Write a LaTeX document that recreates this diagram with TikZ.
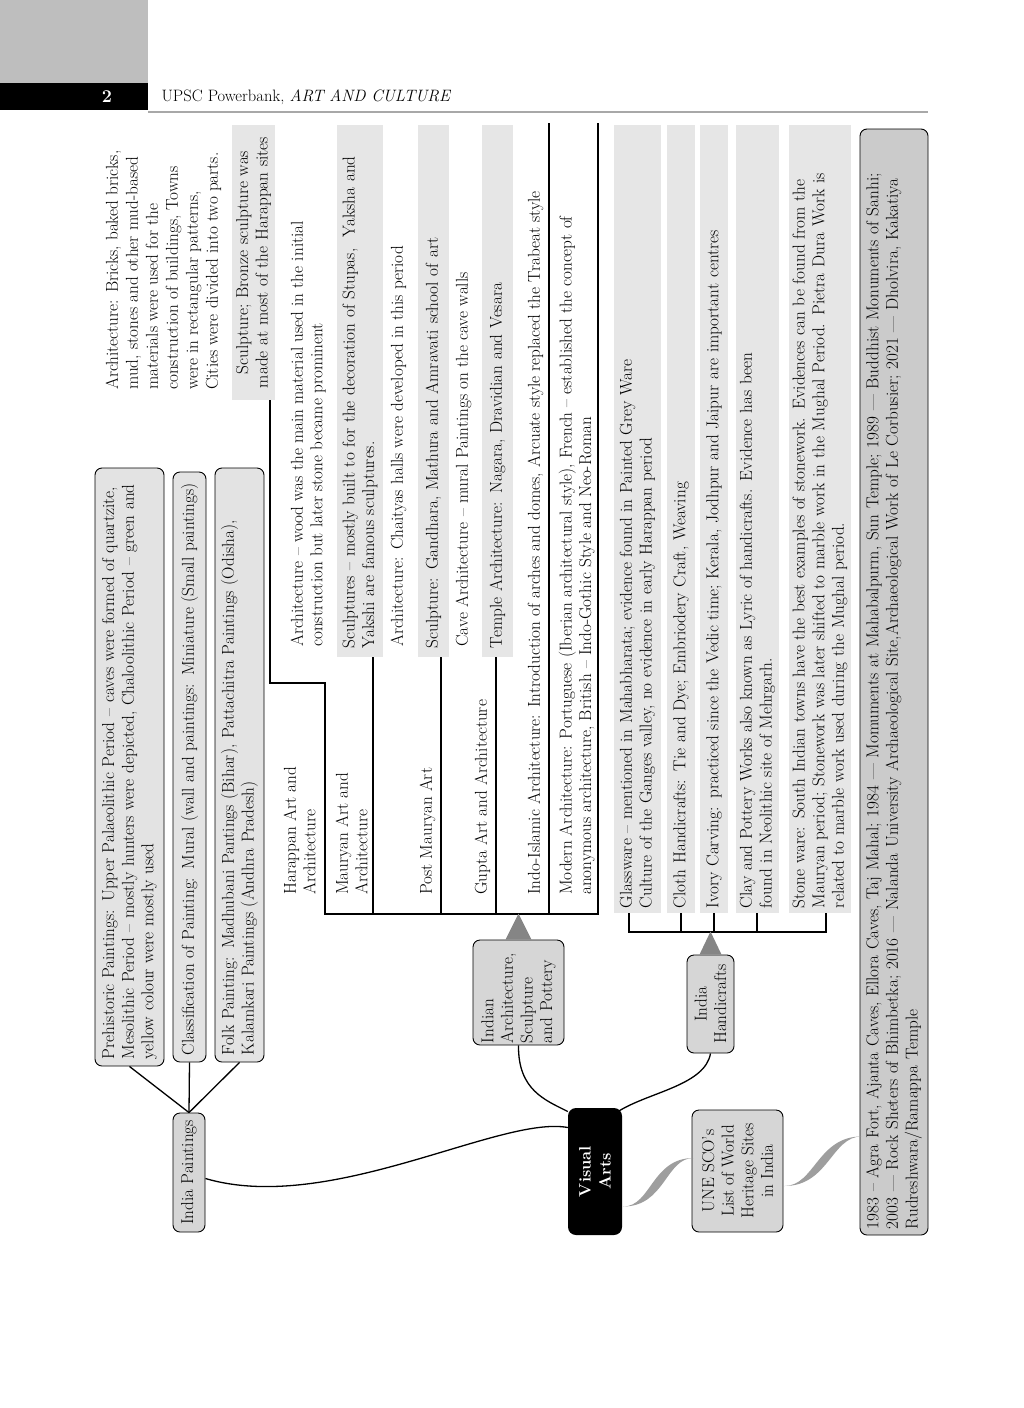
\documentclass[tikz,border=0pt]{standalone}
\usepackage{fontspec}
\usetikzlibrary{calc}
\definecolor{boxgray}{HTML}{D6D6D6}
\definecolor{lightbox}{HTML}{E3E3E3}
\definecolor{bargray}{HTML}{E6E6E6}
\definecolor{headgray}{HTML}{BEBEBE}
\definecolor{trigray}{HTML}{858585}
\definecolor{ribgray}{HTML}{9E9E9E}
\definecolor{rulegray}{HTML}{A8A8A8}
\begin{document}
\begin{tikzpicture}[x=1pt,y=-1pt,
 rot/.style={rotate=90,inner sep=0pt,font=\fontsize{17.2}{19.6}\selectfont},
 rbox/.style={rot,draw=black,line width=0.9pt,rounded corners=7pt,fill=boxgray},
 gbar/.style={rot,fill=bargray},
 txt/.style={rot,align=left,anchor=north west},
 conn/.style={line width=1.3pt},
 brk/.style={line width=1.7pt},
 tri/.style={fill=trigray},
 rib/.style={fill=ribgray}]
\useasboundingbox (0,0) rectangle (1024,1408);

% header
\fill[headgray] (0,0) rectangle (148,83);
\fill[black] (0,83) rectangle (148,110);
\node[text=white,font=\fontsize{18}{20}\selectfont\bfseries] (pgno) at (107,97) {2};
\node[anchor=west,font=\fontsize{16.5}{20}\selectfont] (htitle) at (158,97.5) {UPSC Powerbank, \textit{ART AND CULTURE}};
\draw[rulegray,line width=2pt] (148,111.5) -- (928,111.5);

% India paintings branch
\node[rbox,fill=lightbox,minimum width=598pt,minimum height=69pt,text width=584pt,align=left] (pre) at (129.5,767)
 {Prehistoric Paintings: Upper Palaeolithic Period – caves were formed of quartzite,\\
  Mesolithic Period – mostly hunters were depicted, Chaloolithic Period – green and\\
  yellow colour were mostly used};
\node[rbox,fill=lightbox,minimum width=590pt,minimum height=33pt,text width=576pt,align=left] (cls) at (189.5,767)
 {Classification of Painting: Mural (wall and paintings: Miniature (Small paintings)};
\node[rbox,fill=lightbox,minimum width=594pt,minimum height=49pt,text width=580pt,align=left] (folk) at (239.5,765)
 {Folk Painting: Madhubani Pantings (Bihar), Pattachitra Paintings (Odisha),\\
  Kalamkari Paintings (Andhra Pradesh)};
\node[rbox,minimum width=119pt,minimum height=32pt,align=center] (ip) at (189,1172.5) {India Paintings};

% central node
\node[rot,fill=black,rounded corners=8pt,minimum width=127pt,minimum height=54pt,text=white,align=center,
      font=\fontsize{16.5}{20}\selectfont\bfseries] (va) at (595,1171.5) {Visual\\Arts};

% second level boxes
\node[rbox,minimum width=105pt,minimum height=91pt,text width=101pt,align=left] (ia) at (518.5,992.5)
 {Indian\\Architecture,\\Sculpture\\and Pottery};
\node[rbox,minimum width=98pt,minimum height=47pt,align=center] (hc) at (710.5,1004) {India\\Handicrafts};
\node[rbox,minimum width=122pt,minimum height=91pt,align=center] (un) at (737.5,1171)
 {UNE SCO's\\List of World\\Heritage Sites\\in India};
\node[rbox,fill=boxgray!95!black,minimum width=1106pt,minimum height=68pt,text width=1094pt,align=left] (hr) at (894,682)
 {1983 – Agra Fort, Ajanta Caves, Ellora Caves, Taj Mahal; 1984 — Momuments at Mahabalpurm, Sun Temple; 1989 — Buddhist Monuments of Sanhi;\\
  2003 — Rock Sheters of Bhimbetka; 2016 — Nalanda University Archaeological Site,Archaeological Work of Le Corbusier; 2021 — Dholvira, Kakatiya\\
  Rudreshwara/Ramappa Temple};

% architecture section
\node[txt,font=\fontsize{17.2}{20}\selectfont] (abr) at (105.5,390)
 {Architecture: Bricks, baked bricks,\\mud, stones and other mud-based\\materials were used for the\\construction of buildings, Towns\\were in rectangular patterns,\\Cities were divided into two parts.};
\node[gbar,minimum width=275pt,minimum height=43pt,text width=271pt,align=center] (hsc) at (253.5,262.5)
 {Sculpture; Bronze sculpture was\\made at most of the Harappan sites};
\node[txt] (hl) at (283.5,895) {Harappan Art and\\Architecture};
\node[txt] (awood) at (290.5,647) {Architecture – wood was the main material used in the initial\\construction but later stone became prominent};
\node[gbar,minimum width=532pt,minimum height=46pt,text width=514pt,align=left] (msc) at (360,391)
 {Sculptures – mostly built to for the decoration of Stupas,\ \ Yaksha and\\Yakshi are famous sculptures.};
\node[txt] (ml) at (335.5,895) {Mauryan Art and\\Architecture};
\node[txt] (chai) at (390.5,647) {Architecture: Chaityas halls were developed in this period};
\node[gbar,minimum width=532pt,minimum height=31pt,text width=514pt,align=left] (gan) at (433.5,391)
 {Sculpture: Gandhara, Mathura and Amravati school of art};
\node[txt] (pml) at (419.5,895) {Post Mauryan Art};
\node[txt] (cave) at (455.5,647) {Cave Architecture – mural Paintings on the cave walls};
\node[gbar,minimum width=532pt,minimum height=31pt,text width=514pt,align=left] (tem) at (497.5,391)
 {Temple Architecture: Nagara, Dravidian and Vesara};
\node[txt] (gl) at (474.5,895) {Gupta Art and Architecture};
\node[txt] (indo) at (527.5,895) {Indo-Islamic Architecture: Introduction of arches and domes, Arcuate style replaced the Trabeat style};
\node[txt] (mod) at (558.5,895) {Modern Architecture: Portuguese (Iberian architectural style), French – established the concept of\\anonymous architecture, British – Indo-Gothic Style and Neo-Roman};

% architecture bracket
\coordinate (b1) at (270,400);
\coordinate (b2) at (270,683);
\coordinate (b3) at (325,683);
\coordinate (b4) at (325,914);
\coordinate (b5) at (598,914);
\coordinate (b6) at (598,123);
\draw[brk] (b1) -- (b2) -- (b3) -- (b4) -- (b5) -- (b6);
\draw[brk] (373,657) -- (373,914);
\draw[brk] (441,657) -- (441,914);
\draw[brk] (496,657) -- (496,914);
\draw[brk] (549,123) -- (549,914);
\fill[tri] ($(ia.east)+(-13,0)$) -- ($(ia.east)+(13,0)$) -- ($(ia.east)+(0,-26)$) -- cycle;

% handicrafts
\node[gbar,minimum width=788pt,minimum height=47pt,text width=778pt,align=left] (gw) at (637.5,519)
 {Glassware – mentioned in Mahabharata; evidence found in Painted Grey Ware\\Culture of the Ganges valley, no evidence in early Harappan period};
\node[gbar,minimum width=788pt,minimum height=28pt,text width=778pt,align=left] (cl) at (681,519)
 {Cloth Handicrafts: Tie and Dye; Embriodery Craft, Weaving};
\node[gbar,minimum width=788pt,minimum height=28pt,text width=778pt,align=left] (iv) at (714,519)
 {Ivory Carving: practiced since the Vedic time; Kerala, Jodhpur and Jaipur are important centres};
\node[gbar,minimum width=788pt,minimum height=43pt,text width=778pt,align=left] (cp) at (757.5,519)
 {Clay and Pottery Works also known as Lyric of handicrafts. Evidence has been\\found in Neolithic site of Mehrgarh.};
\node[gbar,minimum width=788pt,minimum height=62pt,text width=778pt,align=left] (sw) at (820,519)
 {Stone ware: South Indian towns have the best examples of stonework. Evidences can be found from the\\
  Mauryan period; Stonework was later shifted to marble work in the Mughal Period. Pietra Dura Work is\\
  related to marble work used during the Mughal period.};
\draw[brk] (629,913) -- (629,932) -- (826,932) -- (826,913);
\draw[brk] (681,913) -- (681,932);
\draw[brk] (714,913) -- (714,932);
\draw[brk] (757,913) -- (757,932);
\fill[tri] ($(hc.east)+(-11,0)$) -- ($(hc.east)+(11,0)$) -- ($(hc.east)+(0,-23)$) -- cycle;

% connectors
\draw[conn] (ip.east) -- (pre.west);
\draw[conn] (ip.east) -- (cls.west);
\draw[conn] (ip.east) -- (folk.west);
\draw[conn] ($(ip.south)+(0,6)$) .. controls (330,1215) and (500,1115) .. ($(va.north)+(0,-44)$);
\draw[conn] (ia.west) .. controls (518,1090) and (545,1100) .. ($(va.north)+(0,-60)$);
\draw[conn] (hc.west) .. controls (705,1085) and (650,1092) .. ($(va.south east)+(-3,3)$);

% ribbons
\coordinate (r1a) at ($(va.south)+(1,35)$);
\coordinate (r1b) at ($(un.north)+(2,-13)$);
\fill[rib] (r1a) .. controls ($(r1a)+(28,0)$) and ($(r1b)+(-42,0)$) .. (r1b)
  .. controls ($(r1b)+(-28,0)$) and ($(r1a)+(42,0)$) .. (r1a) -- cycle;
\coordinate (r2a) at ($(un.south)+(1,15)$);
\coordinate (r2b) at ($(hr.north west)+(2,-99)$);
\fill[rib] (r2a) .. controls ($(r2a)+(30,0)$) and ($(r2b)+(-44,0)$) .. (r2b)
  .. controls ($(r2b)+(-30,0)$) and ($(r2a)+(44,0)$) .. (r2a) -- cycle;
\end{tikzpicture}
\end{document}
